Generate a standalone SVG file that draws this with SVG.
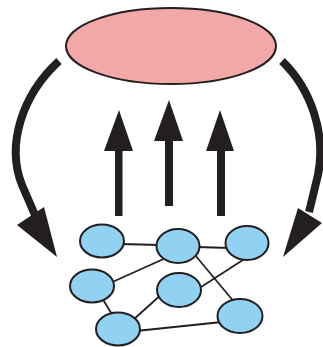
<svg xmlns="http://www.w3.org/2000/svg" width="323" height="347" viewBox="0 0 323 347">
<style>
.big{fill:#f2a8a7;stroke:#231f20;stroke-width:2}
.node{fill:#91d1f2;stroke:#231f20;stroke-width:2}
.edge{stroke:#231f20;stroke-width:1.8;fill:none}
.curve{stroke:#231f20;stroke-width:8;fill:none}
.head{fill:#231f20}
</style>
<rect width="323" height="347" fill="#ffffff"/>
<g id="top-ellipse"><ellipse class="big" cx="171" cy="46" rx="105" ry="38"/></g>
<g id="connectors">
<path class="curve" d="M59,61 C22,95 6,145 22,185 L35,215"/>
<polygon class="head" points="17,225 44,207 57,257"/>
<path class="curve" d="M282,61 C312,90 326,135 318,175 L309,212"/>
<polygon class="head" points="298,208 322,223 283,257"/>
<rect class="head" x="115" y="148" width="7.5" height="68"/>
<polygon class="head" points="104,151 133,151 119,110"/>
<rect class="head" x="165" y="138" width="8" height="68"/>
<polygon class="head" points="154,141 183,141 169,100"/>
<rect class="head" x="217" y="148" width="8" height="68"/>
<polygon class="head" points="206,151 234,151 220,110"/>
<line class="edge" x1="120" y1="244" x2="160" y2="245"/>
<line class="edge" x1="196" y1="247" x2="230" y2="248"/>
<line class="edge" x1="168" y1="257" x2="108" y2="284"/>
<line class="edge" x1="195" y1="255" x2="235" y2="303"/>
<line class="edge" x1="246" y1="258" x2="198" y2="289"/>
<line class="edge" x1="102" y1="298" x2="113" y2="316"/>
<line class="edge" x1="163" y1="293" x2="133" y2="320"/>
<line class="edge" x1="136" y1="331" x2="222" y2="322"/>
</g>
<g id="n1"><ellipse class="node" cx="102" cy="241" rx="22" ry="16.5"/></g>
<g id="n2"><ellipse class="node" cx="178" cy="246" rx="21.5" ry="17"/></g>
<g id="n3"><ellipse class="node" cx="247" cy="243" rx="21.5" ry="17"/></g>
<g id="n4"><ellipse class="node" cx="92" cy="286" rx="22" ry="16.5"/></g>
<g id="n5"><ellipse class="node" cx="179" cy="290" rx="22" ry="17"/></g>
<g id="n6"><ellipse class="node" cx="118" cy="329" rx="22" ry="16.5"/></g>
<g id="n7"><ellipse class="node" cx="240" cy="316" rx="22.5" ry="17"/></g>
</svg>
